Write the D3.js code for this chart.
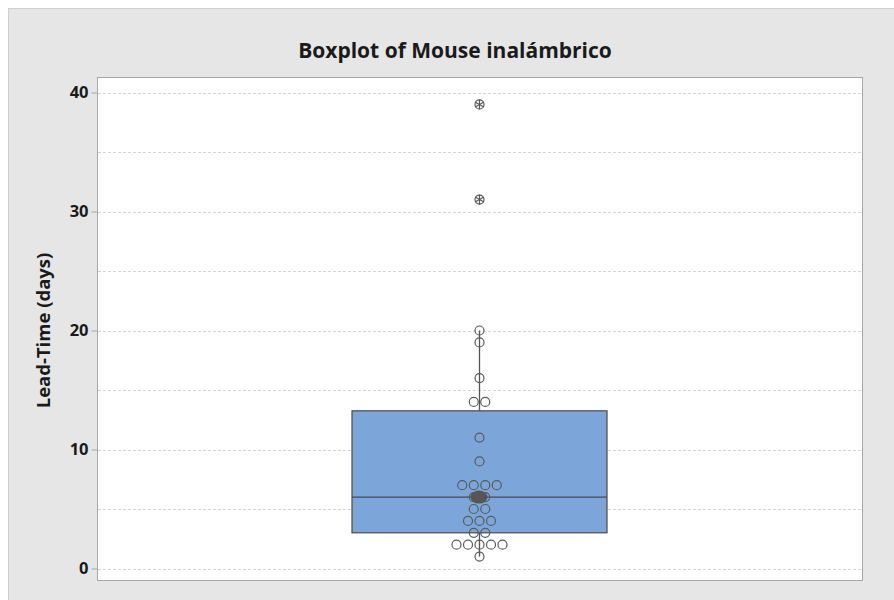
<!DOCTYPE html>
<html><head><meta charset="utf-8">
<script src="https://cdn.jsdelivr.net/npm/d3@7"></script>
<style>body{margin:0;background:#fff}svg{display:block}text{font-family:"Open Sans","Noto Sans",sans-serif}</style>
</head><body>
<script>
const title = "Boxplot of Mouse inalámbrico";
const yLabel = "Lead-Time (days)";
const yTicks = [0, 10, 20, 30, 40];
const yMinor = [5, 15, 25, 35];
// individual data values
const values = [1, 2,2,2,2,2, 3,3, 4,4,4, 5,5, 6,6, 7,7,7,7, 9, 11, 14,14, 16, 19, 20, 31, 39];
const outlierValues = [31, 39];
const q1 = 3, median = 6, q3 = 13.25, whiskLo = 1, whiskHi = 20;
const clusterValue = [6];

const W = 894, H = 600;
const svg = d3.select("body").append("svg").attr("width", W).attr("height", H);
svg.append("rect").attr("x", 8.5).attr("y", 8.5).attr("width", W).attr("height", H)
  .attr("fill", "#e6e6e6").attr("stroke", "#cfcfcf");

const L = 97, R = 862, T = 77, B = 580;
const y = d3.scaleLinear().domain([0, 40]).range([568.5, 92.5]);
const x = d3.scaleBand().domain(["g"]).range([L, R]).paddingInner(0).paddingOuter(0);
const cx = x("g") + x.bandwidth() / 2;
const boxW = 255;

svg.append("rect").attr("x", L + 0.5).attr("y", T + 0.5).attr("width", R - L).attr("height", B - T)
  .attr("fill", "#fff").attr("stroke", "#a6a6a6");

const grid = svg.append("g");
grid.selectAll("line").data(yTicks.concat(yMinor)).join("line")
  .attr("x1", L + 1).attr("x2", R).attr("y1", d => Math.round(y(d)) + 0.5).attr("y2", d => Math.round(y(d)) + 0.5)
  .attr("stroke", "#d4d4d4").attr("stroke-dasharray", "3,2");

const axis = svg.append("g").attr("transform", `translate(${L + 0.5},0)`)
  .call(d3.axisLeft(y).tickValues(yTicks).tickSize(6).tickPadding(3));
axis.select(".domain").remove();
axis.selectAll(".tick line").attr("stroke", "#a6a6a6");
axis.selectAll(".tick text").attr("fill", "#1a1a1a").attr("font-size", 16.5).attr("font-weight", "bold")
  .style("font-family", '"Open Sans","Noto Sans",sans-serif');

// title and label
svg.append("text").attr("x", 455).attr("y", 58).attr("text-anchor", "middle")
  .attr("font-size", 21).attr("font-weight", "bold").attr("fill", "#1a1a1a").text(title);
svg.append("text").attr("transform", `translate(50,${(T + B) / 2 + 2}) rotate(-90)`).attr("text-anchor", "middle")
  .attr("font-size", 18.5).attr("font-weight", "bold").attr("fill", "#1a1a1a").text(yLabel);

// whiskers
svg.append("line").attr("x1", cx).attr("x2", cx).attr("y1", y(whiskHi)).attr("y2", y(q3)).attr("stroke", "#555").attr("stroke-width", 1.3);
svg.append("line").attr("x1", cx).attr("x2", cx).attr("y1", y(q1)).attr("y2", y(whiskLo)).attr("stroke", "#555").attr("stroke-width", 1.3);
// box
svg.append("rect").attr("x", cx - boxW / 2).attr("y", y(q3)).attr("width", boxW).attr("height", y(q1) - y(q3))
  .attr("fill", "#7ca6d9").attr("stroke", "#4a4a4a").attr("stroke-width", 1.2);
svg.append("line").attr("x1", cx - boxW / 2).attr("x2", cx + boxW / 2).attr("y1", y(median)).attr("y2", y(median))
  .attr("stroke", "#4a4a4a").attr("stroke-width", 1.2);

// individual value points, spread horizontally when duplicated
const counts = d3.rollup(values, v => v.length, d => d);
const seen = new Map();
const pts = values.map(v => {
  const n = counts.get(v); const i = seen.get(v) || 0; seen.set(v, i + 1);
  return { v, off: (i - (n - 1) / 2) * 11.5 };
});
// cluster at 6 (dense overlapping points)
svg.selectAll(".cl").data(clusterValue).join("ellipse").attr("class", "cl")
  .attr("cx", cx - 0.5).attr("cy", d => y(d)).attr("rx", 8.5).attr("ry", 6.5).attr("fill", "#555");
svg.selectAll(".pt").data(pts).join("circle").attr("class", "pt")
  .attr("cx", d => cx + d.off).attr("cy", d => y(d.v)).attr("r", 4.5)
  .attr("fill", "none").attr("stroke", "#5a5a5a").attr("stroke-width", 1.2);

// outlier asterisks
const og = svg.selectAll(".out").data(outlierValues).join("g").attr("class", "out")
  .attr("transform", d => `translate(${cx},${y(d)})`);
[0, 60, 120].forEach(a => {
  og.append("line").attr("x1", 0).attr("y1", -5).attr("x2", 0).attr("y2", 5)
    .attr("transform", `rotate(${a})`).attr("stroke", "#5a5a5a").attr("stroke-width", 1.2);
});
</script>
</body></html>
